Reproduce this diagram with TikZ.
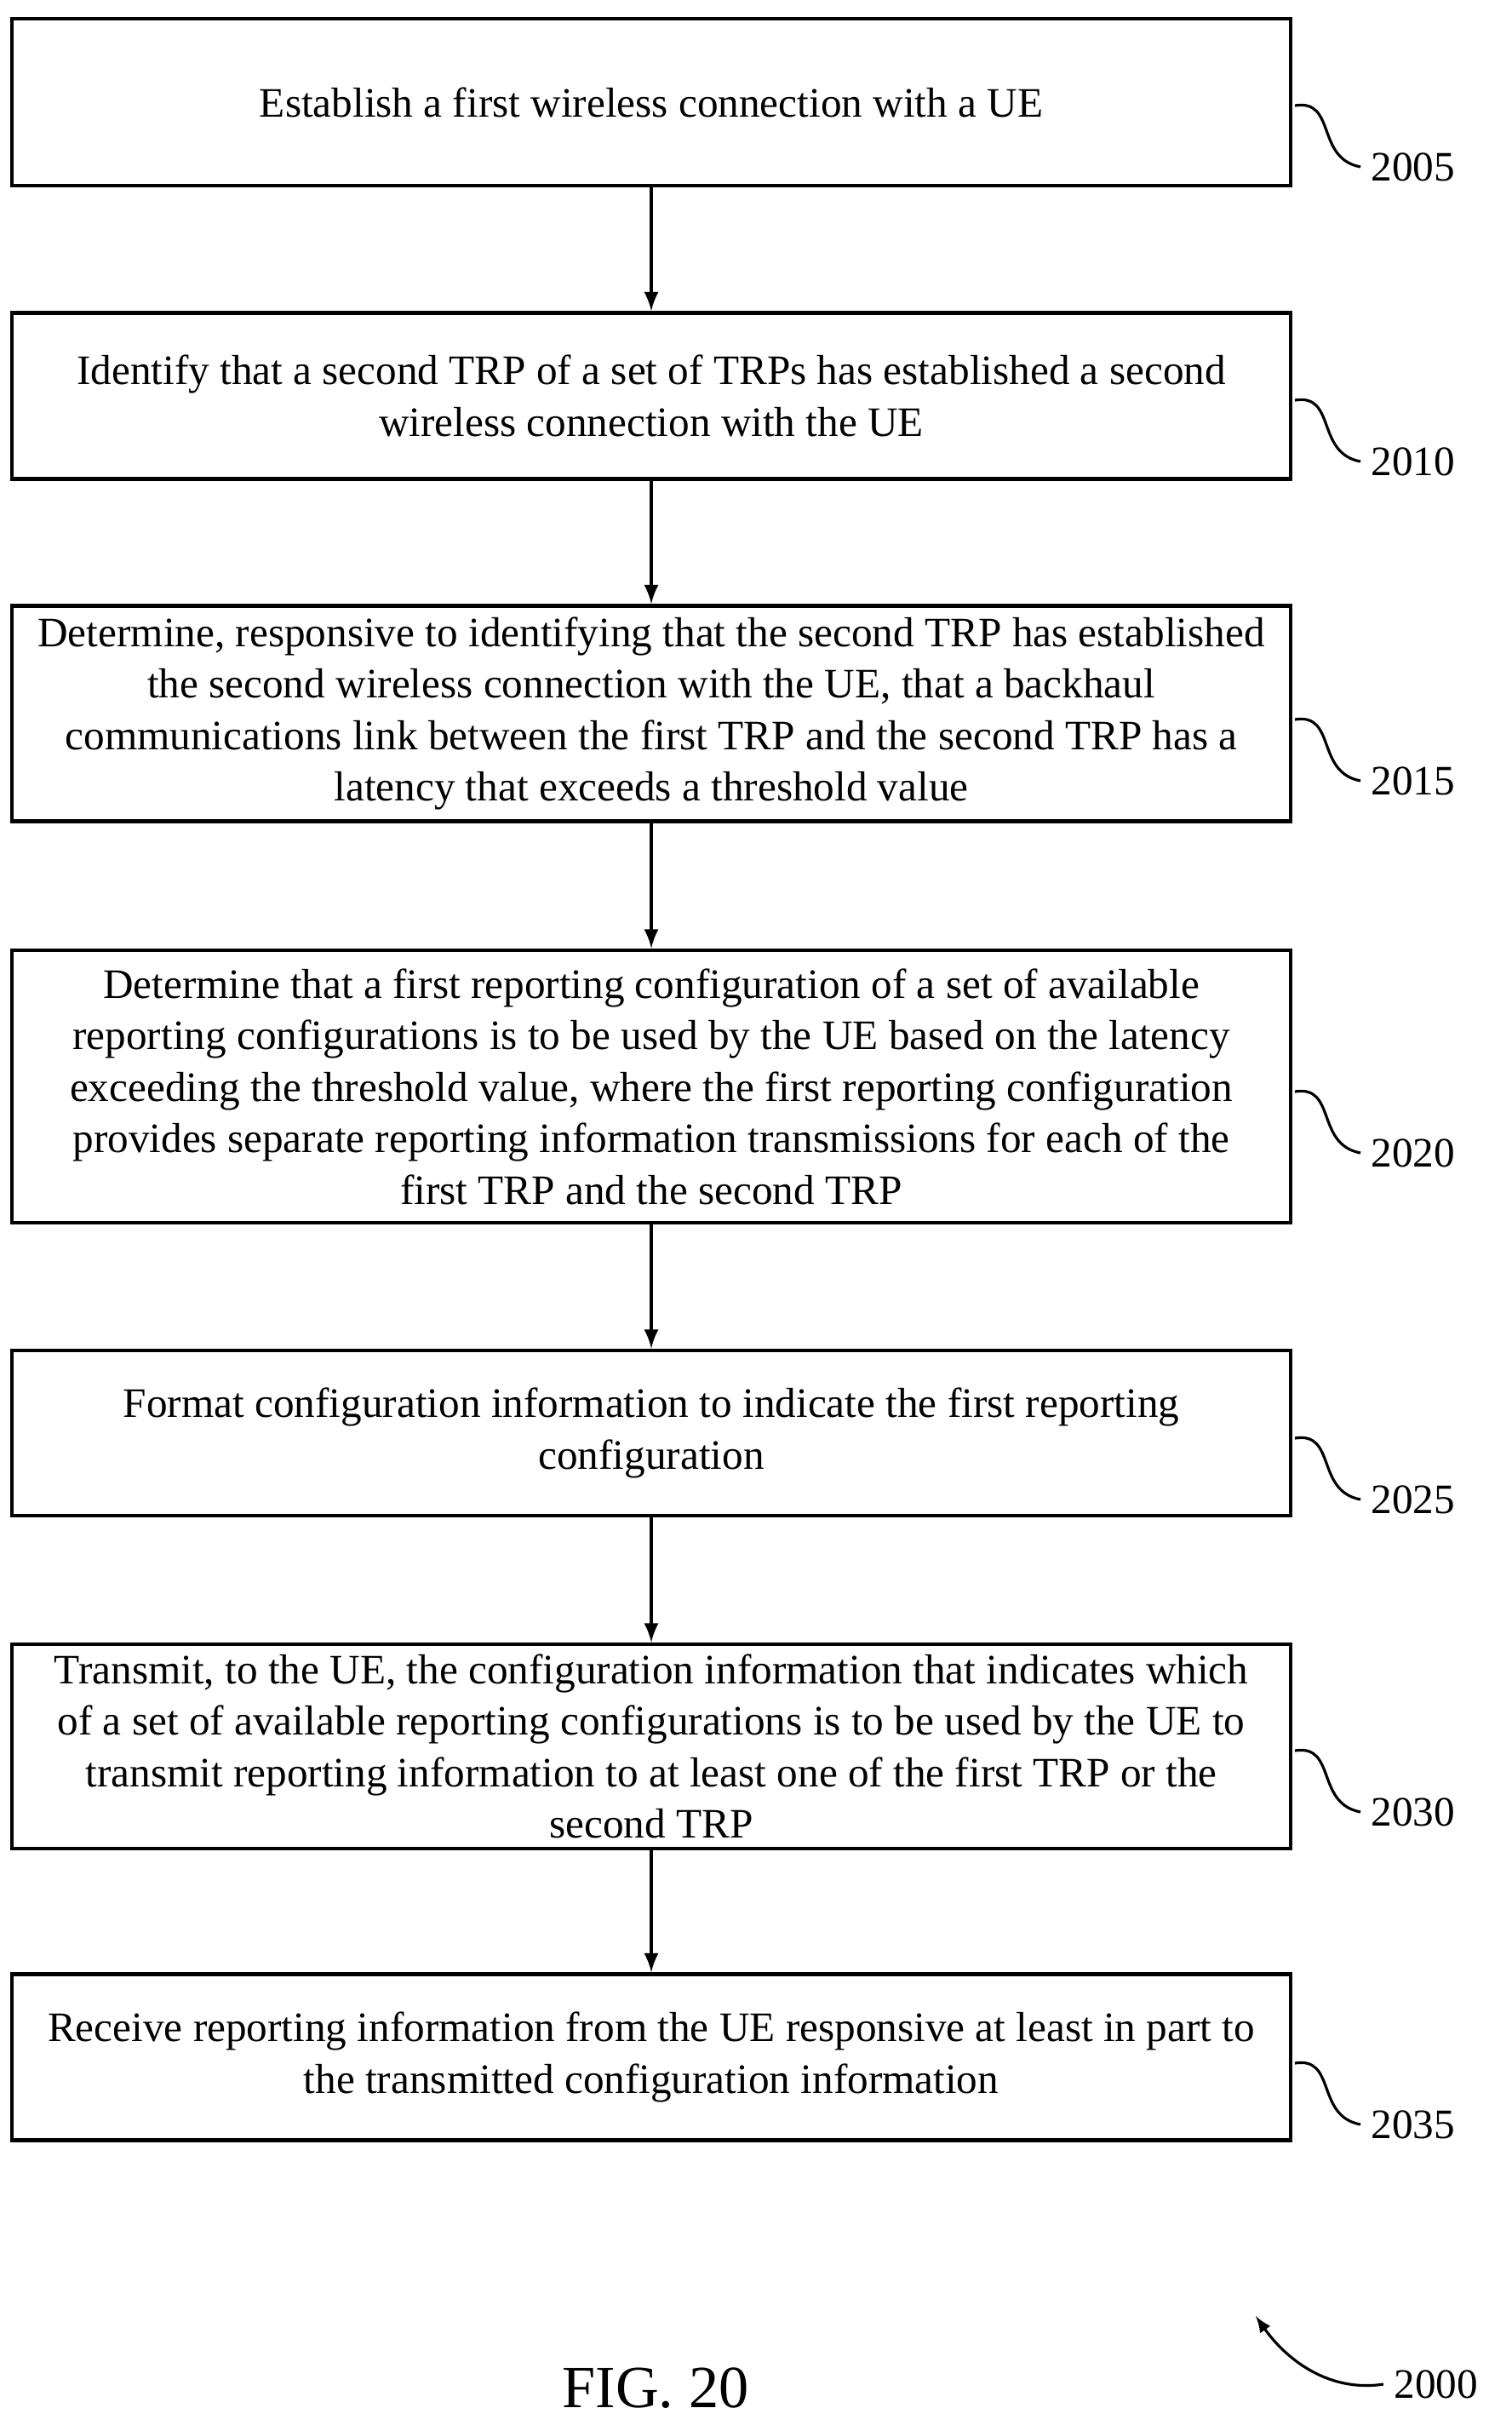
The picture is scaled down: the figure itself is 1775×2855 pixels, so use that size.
\documentclass[tikz,border=0pt]{standalone}
\usepackage{fontspec}
\setmainfont{Liberation Serif}
\tikzset{
  stepbox/.style={draw, line width=1.2pt, minimum width=15.01cm, align=center, font=\fontsize{14}{17.2}\selectfont},
  flow/.style={-latex, line width=1.2pt},
  refline/.style={line width=0.9pt},
  reflabel/.style={anchor=west, font=\fontsize{14}{17}\selectfont}
}
\begin{document}
\begin{tikzpicture}[x=0.01cm, y=-0.01cm]
  \useasboundingbox (0,0) rectangle (1775,2855);
  \node[stepbox, minimum height=1.96cm] (s1) at (765,120) {Establish a first wireless connection with a UE};
  \node[stepbox, minimum height=1.95cm] (s2) at (765,465) {Identify that a second TRP of a set of TRPs has established a second\\wireless connection with the UE};
  \node[stepbox, minimum height=2.53cm] (s3) at (765,838) {Determine, responsive to identifying that the second TRP has established\\the second wireless connection with the UE, that a backhaul\\communications link between the first TRP and the second TRP has a\\latency that exceeds a threshold value};
  \node[stepbox, minimum height=3.2cm] (s4) at (765,1276) {Determine that a first reporting configuration of a set of available\\reporting configurations is to be used by the UE based on the latency\\exceeding the threshold value, where the first reporting configuration\\provides separate reporting information transmissions for each of the\\first TRP and the second TRP};
  \node[stepbox, minimum height=1.94cm] (s5) at (765,1683) {Format configuration information to indicate the first reporting\\configuration};
  \node[stepbox, minimum height=2.38cm] (s6) at (765,2051) {Transmit, to the UE, the configuration information that indicates which\\of a set of available reporting configurations is to be used by the UE to\\transmit reporting information to at least one of the first TRP or the\\second TRP};
  \node[stepbox, minimum height=1.95cm] (s7) at (765,2416) {Receive reporting information from the UE responsive at least in part to\\the transmitted configuration information};

  \foreach \a/\b in {s1/s2, s2/s3, s3/s4, s4/s5, s5/s6, s6/s7}
    \draw[flow] (\a.south) -- (\b.north);

  % reference numerals
  \foreach \s/\n/\y in {s1/2005/124, s2/2010/470, s3/2015/845, s4/2020/1282, s5/2025/1689, s6/2030/2056, s7/2035/2423} {
    \node[reflabel] (l\n) at (1598,\y+72) {\n};
    \draw[refline] (1521,\y) .. controls (1570,\y-8) and (1545,\y+62) .. (l\n.west);
  }

  \node[font=\fontsize{20}{24}\selectfont] (fig) at (770,2805) {FIG. 20};
  \node[reflabel] (l2000) at (1625,2800) {2000};
  \draw[refline, -latex] (l2000.west) .. controls (1560,2810) and (1510,2770) .. (1475,2720);
\end{tikzpicture}
\end{document}
